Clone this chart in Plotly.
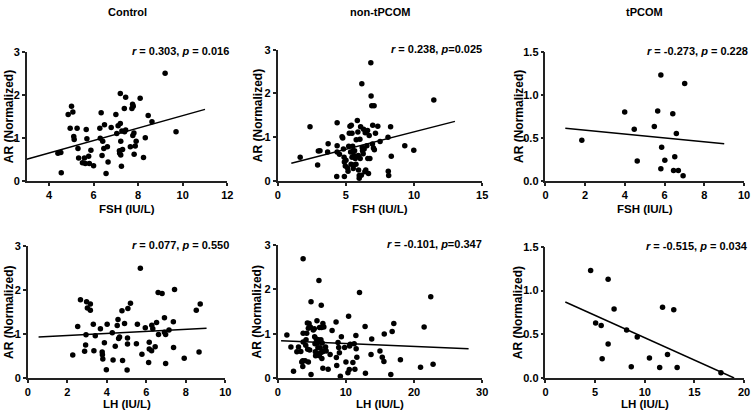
import plotly.graph_objects as go

# ---- data ----
groups = ["Control", "non-tPCOM", "tPCOM"]
hormones = ["FSH (IU/L)", "LH (IU/L)"]

ctrl_fsh_x = [9.21, 9.70, 4.55, 4.40, 4.53, 4.86, 5.01, 5.07, 4.95, 5.11, 5.13, 5.26, 5.30, 5.33, 5.50, 5.59,
              5.63, 5.67, 5.70, 5.78, 5.81, 5.88, 6.00, 6.34, 6.28, 6.30, 6.41, 6.38, 6.49, 6.46, 6.56, 6.62,
              6.65, 6.79, 7.00, 7.04, 7.10, 7.16, 7.20, 7.20, 7.17, 7.22, 7.22, 7.25, 7.27, 7.30, 7.38, 7.39,
              7.44, 7.44, 7.65, 7.72, 7.75, 7.78, 7.76, 7.81, 7.82, 7.87, 7.91, 8.09, 8.24, 8.32, 8.45, 8.62]
ctrl_fsh_y = [2.50, 1.14, 0.19, 0.64, 0.66, 1.54, 1.73, 1.60, 1.22, 1.03, 0.96, 1.22, 0.75, 0.53, 0.42, 0.53,
              0.40, 1.19, 0.98, 0.57, 0.40, 0.71, 0.35, 1.58, 1.22, 0.99, 0.92, 0.59, 1.30, 0.75, 0.17, 0.79,
              0.44, 1.24, 1.54, 1.10, 1.28, 0.70, 1.33, 2.03, 0.64, 0.92, 0.60, 0.34, 1.16, 0.73, 1.68, 1.14,
              1.94, 1.18, 0.79, 1.68, 1.78, 1.73, 1.05, 1.11, 0.62, 0.81, 0.92, 1.92, 0.54, 1.00, 1.52, 1.37]

non_fsh_x = [1.65, 2.37, 2.93, 2.98, 3.10, 3.70, 3.66, 4.33, 4.36, 4.36, 4.36, 4.53, 4.72, 4.77, 4.82, 4.87,
             4.89, 4.89, 4.96, 5.01, 5.11, 5.16, 5.21, 5.25, 5.30, 5.35, 5.38, 5.40, 5.45, 5.45, 5.50, 5.52,
             5.54, 5.57, 5.59, 5.64, 5.69, 5.74, 5.76, 5.84, 5.88, 5.91, 5.93, 5.98, 5.98, 6.03, 6.05, 6.08,
             6.13, 6.17, 6.20, 6.22, 6.27, 6.30, 6.34, 6.39, 6.42, 6.46, 6.54, 6.59, 6.61, 6.66, 6.71, 6.76,
             6.83, 6.85, 6.90, 6.95, 6.97, 7.02, 7.07, 7.09, 7.17, 7.34, 7.51, 8.09, 8.11, 8.14, 8.28, 8.33,
             9.32, 9.98, 11.45]
non_fsh_y = [0.54, 1.24, 0.36, 0.68, 0.69, 0.85, 0.66, 0.10, 1.33, 0.80, 0.66, 0.61, 1.01, 0.98, 0.73, 0.54,
             0.43, 0.10, 0.34, 0.47, 0.30, 0.22, 0.79, 1.09, 1.25, 0.66, 0.38, 1.27, 1.09, 0.54, 0.79, 0.68,
             0.28, 0.36, 0.58, 0.69, 0.51, 0.38, 0.94, 1.38, 1.12, 0.58, 0.25, 0.12, 0.06, 0.95, 0.51, 1.24,
             0.13, 2.22, 0.76, 0.69, 0.62, 1.18, 0.73, 0.21, 1.10, 0.25, 0.80, 1.15, 0.51, 0.17, 1.04, 0.51,
             2.70, 1.94, 1.72, 0.84, 1.27, 0.75, 1.72, 0.71, 1.09, 1.25, 0.90, 1.00, 0.22, 0.12, 1.24, 0.56,
             0.80, 0.70, 1.85]

tp_fsh_x = [1.83, 3.99, 4.47, 4.62, 5.48, 5.65, 5.81, 5.85, 5.81, 6.01, 6.41, 6.45, 6.51, 6.59, 6.69, 6.93, 7.01]
tp_fsh_y = [0.47, 0.80, 0.60, 0.23, 0.63, 0.81, 1.23, 0.39, 0.14, 0.24, 0.78, 0.12, 0.28, 0.55, 0.12, 0.06, 1.13]

ctrl_lh_x = [2.28, 2.53, 2.67, 2.88, 2.93, 2.95, 2.98, 3.02, 3.17, 3.17, 3.32, 3.35, 3.42, 3.68, 3.77, 3.78,
             3.80, 3.88, 3.98, 4.02, 4.28, 4.32, 4.43, 4.53, 4.57, 4.60, 4.65, 4.77, 4.80, 4.90, 5.03, 5.05,
             5.05, 5.07, 5.20, 5.50, 5.55, 5.70, 5.78, 5.95, 6.12, 6.15, 6.15, 6.27, 6.28, 6.33, 6.45, 6.52,
             6.60, 6.62, 6.80, 6.92, 6.92, 6.98, 6.98, 7.15, 7.37, 7.38, 7.43, 7.92, 8.53, 8.67, 8.73]
ctrl_lh_y = [0.52, 1.17, 1.78, 0.61, 0.75, 0.98, 1.73, 1.59, 1.68, 1.54, 1.22, 0.62, 0.96, 1.12, 0.59, 0.53,
             0.43, 0.80, 0.19, 1.22, 1.03, 0.41, 0.72, 1.19, 1.33, 0.90, 0.93, 1.53, 0.40, 1.24, 0.18, 0.91,
             0.77, 1.58, 1.70, 0.78, 1.22, 2.49, 0.54, 1.14, 0.35, 0.81, 0.66, 0.62, 1.20, 1.12, 0.71, 1.26,
             1.94, 0.99, 1.92, 1.37, 1.04, 0.99, 0.33, 1.09, 1.28, 0.69, 2.01, 0.45, 1.54, 0.59, 1.68]

non_lh_x = [1.35, 1.94, 2.32, 2.81, 3.05, 3.39, 3.53, 3.68, 3.68, 3.73, 3.73, 3.73, 4.02, 4.11, 4.16, 4.26,
            4.35, 4.40, 4.50, 4.50, 4.60, 4.69, 4.79, 4.89, 4.89, 5.22, 5.37, 5.42, 5.47, 5.52, 5.56, 5.66,
            5.76, 5.81, 5.85, 5.90, 5.95, 6.05, 6.10, 6.14, 6.24, 6.29, 6.34, 6.39, 6.43, 6.48, 6.53, 6.58,
            6.63, 6.63, 6.72, 6.77, 7.02, 7.11, 7.40, 7.69, 7.98, 8.56, 8.61, 8.66, 8.85, 8.95, 9.05, 9.19,
            9.34, 9.82, 10.01, 10.30, 10.40, 10.50, 10.55, 10.64, 11.03, 11.22, 11.32, 11.47, 11.51, 11.61,
            12.00, 12.82, 12.87, 13.69, 13.79, 15.00, 15.34, 15.58, 15.63, 16.79, 16.59, 17.03, 18.00,
            20.95, 21.48, 22.45, 22.79]
non_lh_y = [0.97, 0.70, 0.15, 0.59, 0.70, 0.60, 0.36, 0.26, 0.39, 0.81, 1.01, 2.69, 0.39, 0.74, 0.86, 1.01,
            1.24, 0.65, 0.36, 1.12, 1.23, 0.63, 1.15, 1.72, 0.08, 1.08, 1.11, 0.93, 0.77, 0.59, 0.50, 0.88,
            1.29, 0.54, 0.79, 0.68, 0.86, 2.20, 0.50, 1.14, 0.68, 0.57, 0.86, 1.64, 1.14, 0.44, 0.79, 0.59,
            1.23, 0.22, 0.61, 1.15, 0.70, 0.61, 0.20, 0.53, 1.07, 1.26, 0.46, 0.28, 0.80, 0.69, 0.57, 0.04,
            0.93, 0.69, 0.36, 0.12, 1.39, 0.19, 0.72, 0.76, 0.35, 0.77, 0.20, 0.96, 0.66, 0.47,
            1.93, 1.16, 0.11, 0.53, 0.88, 0.61, 0.47, 0.37, 0.99, 1.05, 0.08, 1.23, 0.41,
            0.24, 1.15, 1.83, 0.31]

tp_lh_x = [4.55, 5.05, 5.61, 5.71, 6.31, 6.31, 6.91, 8.17, 8.64, 9.24, 10.47, 11.50, 11.79, 12.29, 12.92, 13.26, 17.67]
tp_lh_y = [1.23, 0.63, 0.60, 0.22, 1.13, 0.39, 0.79, 0.55, 0.13, 0.47, 0.23, 0.12, 0.81, 0.27, 0.78, 0.12, 0.06]

# regression line end points as drawn
fit_x = [[3, 11], [1, 13], [1, 9], [0.55, 9.05], [0.5, 28], [2, 19]]
fit_y = [[0.50, 1.66], [0.40, 1.36], [0.61, 0.43], [0.93, 1.13], [0.84, 0.66], [0.87, 0.0]]

stats = ["0.303, <i>p</i> = 0.016", "0.238, <i>p</i>=0.025", "-0.273, <i>p</i> = 0.228",
         "0.077, <i>p</i> = 0.550", "-0.101, <i>p</i>=0.347", "-0.515, <i>p</i> = 0.034"]

x_ranges = [[3, 12], [0, 15], [0, 10], [0, 10], [0, 30], [0, 20]]
x_ticks = [[4, 6, 8, 10, 12], [0, 5, 10, 15], [0, 2, 4, 6, 8, 10], [0, 2, 4, 6, 8, 10], [0, 10, 20, 30], [0, 5, 10, 15, 20]]
y_ranges = [[0, 3], [0, 3], [0, 1.5], [0, 3], [0, 3], [0, 1.5]]
y_ticks = [[0, 1, 2, 3], [0, 1, 2, 3], [0, 0.5, 1.0, 1.5], [0, 1, 2, 3], [0, 1, 2, 3], [0, 0.5, 1.0, 1.5]]

xs = [ctrl_fsh_x, non_fsh_x, tp_fsh_x, ctrl_lh_x, non_lh_x, tp_lh_x]
ys = [ctrl_fsh_y, non_fsh_y, tp_fsh_y, ctrl_lh_y, non_lh_y, tp_lh_y]

W, H = 756, 418
FONT = "Liberation Sans, Arial, sans-serif"

# pixel boxes of each plot area (left, right, top, bottom)
boxes = [(24, 227, 47, 180), (278, 485, 45, 180), (549, 750, 47, 180),
         (25, 225, 247, 383), (278, 485, 246, 383), (549, 750, 248, 383)]
ylabel_px = [6, 258, 522]
stat_right_px = [231, 487, 756]

fig = go.Figure()
layout = dict(
    width=W, height=H, margin=dict(l=0, r=0, t=0, b=0),
    paper_bgcolor="white", plot_bgcolor="white", showlegend=False,
    font=dict(family=FONT, color="black", size=11),
)
annotations = []

for i in range(6):
    n = i + 1
    xa, ya = ("x", "y") if n == 1 else (f"x{n}", f"y{n}")
    fig.add_trace(go.Scatter(x=fit_x[i], y=fit_y[i], mode="lines",
                             line=dict(color="black", width=1.5), xaxis=xa, yaxis=ya))
    fig.add_trace(go.Scatter(x=xs[i], y=ys[i], mode="markers",
                             marker=dict(color="black", size=5.5), xaxis=xa, yaxis=ya, cliponaxis=False))
    l, r, t, b = boxes[i]
    ax_common = dict(showline=True, linecolor="#222", linewidth=1.5, ticks="outside", ticklen=3,
                     tickwidth=1.5, tickcolor="#222", showgrid=False, zeroline=False,
                     tickfont=dict(family=FONT, size=11, color="black", weight="bold"))
    is_half = y_ranges[i][1] == 1.5
    layout["xaxis" if n == 1 else f"xaxis{n}"] = dict(
        domain=[l / W, r / W], range=x_ranges[i], tickvals=x_ticks[i],
        anchor=ya, **ax_common)
    layout["yaxis" if n == 1 else f"yaxis{n}"] = dict(
        domain=[1 - b / H, 1 - t / H], range=y_ranges[i], tickvals=y_ticks[i],
        tickformat=".1f" if is_half else "d", anchor=xa, **ax_common)

    col = i % 3
    row = i // 3
    annotations.append(dict(
        x=stat_right_px[col] / W, y=1 - (t - 1) / H, xref="paper", yref="paper",
        xanchor="right", yanchor="middle", showarrow=False,
        text=f"<b><i>r</i> = {stats[i]}</b>", font=dict(family=FONT, size=11, color="black")))
    annotations.append(dict(
        x=ylabel_px[col] / W, y=1 - (t + b) / 2 / H, xref="paper", yref="paper",
        xanchor="center", yanchor="middle", textangle=-90, showarrow=False,
        text="<b>AR (Normalized)</b>", font=dict(family=FONT, size=12, color="black")))
    annotations.append(dict(
        x=(l + r) / 2 / W, y=1 - (209 if row == 0 else 410) / H, xref="paper", yref="paper",
        xanchor="center", yanchor="middle", showarrow=False,
        text=f"<b>{hormones[row]}</b>", font=dict(family=FONT, size=11.5, color="black")))
    if row == 0:
        annotations.append(dict(
            x=(l + r) / 2 / W, y=1 - 6 / H, xref="paper", yref="paper",
            xanchor="center", yanchor="middle", showarrow=False,
            text=f"<b>{groups[col]}</b>", font=dict(family=FONT, size=11, color="black")))

layout["annotations"] = annotations
fig.update_layout(**layout)
fig.write_html("out.html", config={"displayModeBar": False},
               post_script="document.body.style.margin='0';document.body.style.overflow='hidden';")
